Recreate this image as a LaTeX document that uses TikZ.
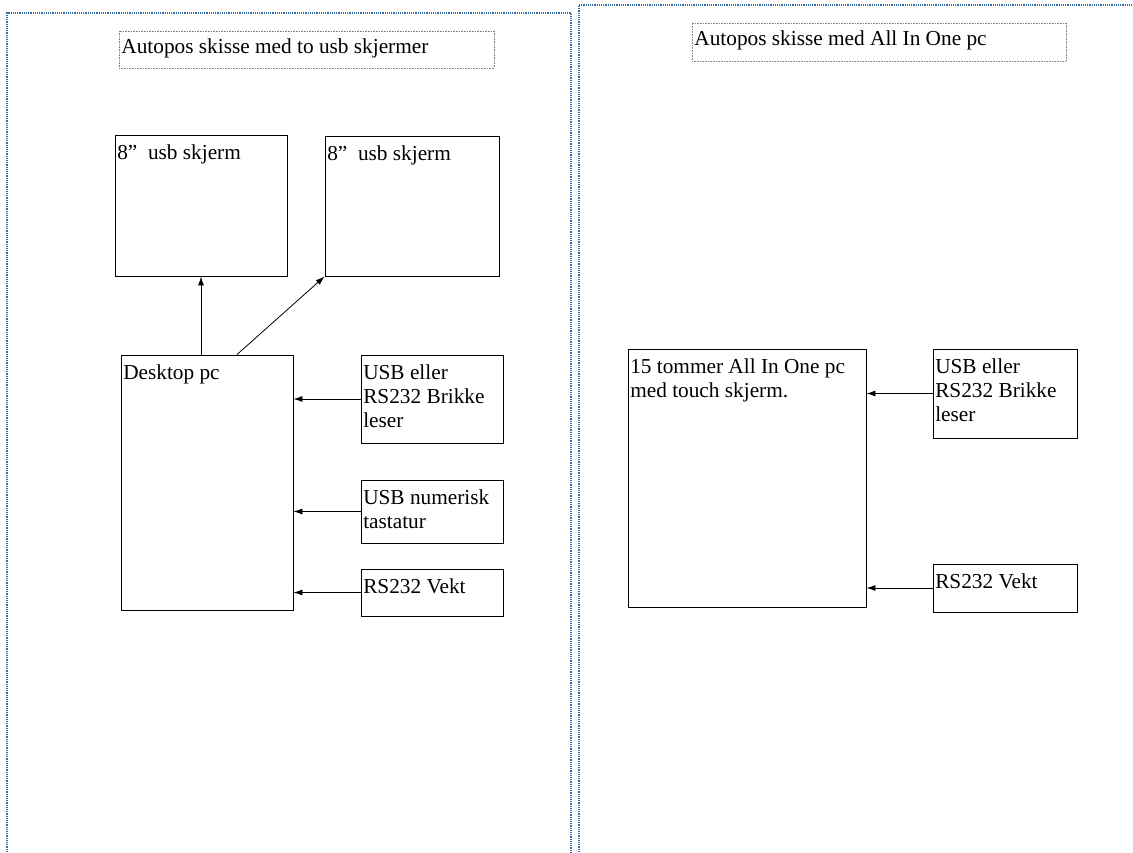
\documentclass[tikz,border=0pt]{standalone}
\usepackage{fontspec}
\setmainfont{Liberation Serif}
\usetikzlibrary{positioning,arrows.meta}
\definecolor{sidefarge}{RGB}{52,110,170}

\begin{document}
\begin{tikzpicture}[x=1pt, y=-1pt,
    every node/.style={font=\fontsize{21.3}{24.2}\selectfont},
    boks/.style 2 args={draw, rectangle, line width=0.9pt, minimum width=#1pt, minimum height=#2pt, inner sep=0pt},
    tittel/.style 2 args={draw=gray, densely dotted, rectangle, line width=0.6pt, minimum width=#1pt, minimum height=#2pt, inner sep=0pt},
    tekst/.style={anchor=north west, inner xsep=2.5pt, inner ysep=#1, align=left},
    tekst/.default=9.5pt,
    pil/.style={-{Latex[length=9pt,width=6pt]}, line width=0.8pt},
    side/.style={draw=sidefarge, densely dotted, line width=1.2pt}
  ]
  \useasboundingbox (0,0) rectangle (1133,852);

  \draw[side] (7,852) -- (7,13) -- (571,13) -- (571,852);
  \draw[side] (579,852) -- (579,5) -- (1133,5);

  \node[tittel={375}{37}, label={[tekst=8pt]north west:Autopos skisse med to usb skjermer}] (tittel1) at (306.5,49.5) {};
  \node[boks={172}{141}, label={[tekst]north west:8”~ usb skjerm}] (skjerm1) at (201,205.5) {};
  \node[boks={174}{140}, label={[tekst]north west:8”~ usb skjerm}] (skjerm2) at (412,206) {};
  \node[boks={172}{255}, label={[tekst]north west:Desktop pc}] (desktop) at (207,482.5) {};
  \node[boks={142}{88}, label={[tekst]north west:{USB eller\\RS232 Brikke\\leser}}] (leser1) at (432,399) {};
  \node[boks={142}{63}, label={[tekst]north west:{USB numerisk\\tastatur}}] (numpad) at (432,511.5) {};
  \node[boks={142}{47}, label={[tekst]north west:RS232 Vekt}] (vekt1) at (432,592.5) {};

  \draw[pil] (skjerm1.south |- desktop.north) -- (skjerm1.south);
  \draw[pil] ([xshift=30pt]desktop.north) -- (skjerm2.south west);
  \draw[pil] (leser1.west) -- (leser1.west -| desktop.east);
  \draw[pil] (numpad.west) -- (numpad.west -| desktop.east);
  \draw[pil] (vekt1.west) -- (vekt1.west -| desktop.east);

  \node[tittel={374}{38}, label={[tekst=8pt]north west:Autopos skisse med All In One pc}] (tittel2) at (879,42) {};
  \node[boks={238}{258}, label={[tekst]north west:{15 tommer All In One pc\\med touch skjerm.}}] (aio) at (747,478) {};
  \node[boks={144}{89}, label={[tekst]north west:{USB eller\\RS232 Brikke\\leser}}] (leser2) at (1005,393.5) {};
  \node[boks={144}{48}, label={[tekst]north west:RS232 Vekt}] (vekt2) at (1005,588) {};

  \draw[pil] (leser2.west) -- (leser2.west -| aio.east);
  \draw[pil] (vekt2.west) -- (vekt2.west -| aio.east);
\end{tikzpicture}
\end{document}
